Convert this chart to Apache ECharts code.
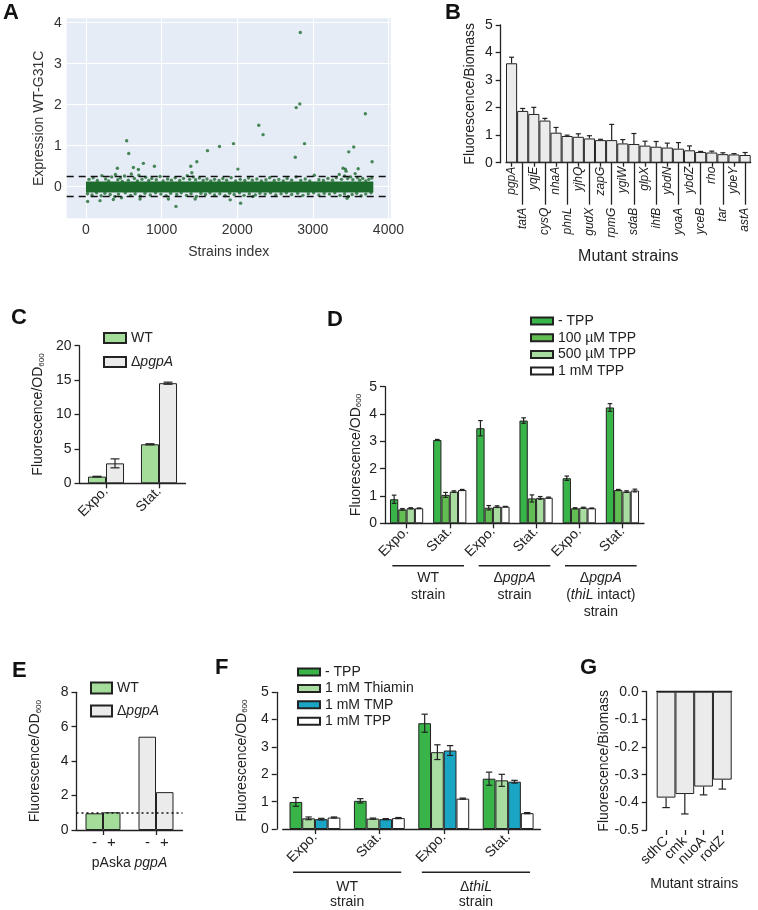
<!DOCTYPE html>
<html><head><meta charset="utf-8">
<script src="https://cdn.jsdelivr.net/npm/echarts@6/dist/echarts.min.js"></script>
<style>html,body{margin:0;padding:0;background:#fff}#c{width:758px;height:910px}</style>
</head><body><div id="c"></div>
<script>
// ---------------- Panel A ----------------
const aTicksX = [0, 1000, 2000, 3000, 4000];
const aTicksY = [0, 1, 2, 3, 4];
const aThresholds = [0.25, -0.23];
const aBandX = [0, 3800];
const aBandY = [-0.14, 0.13];
const aFringe = [
  [40,0.18],[95,0.22],[150,0.15],[210,0.27],[260,0.19],[300,0.14],[340,0.24],[390,0.3],[420,0.17],[455,0.21],
  [480,0.13],[510,0.26],[560,0.16],[600,0.31],[640,0.2],[680,0.14],[700,0.28],[740,0.18],[790,0.23],[830,0.15],
  [870,0.2],[930,0.17],[980,0.25],[1020,0.14],[1080,0.19],[1130,0.16],[1180,0.22],[1240,0.15],[1290,0.2],[1340,0.27],
  [1370,0.18],[1400,0.34],[1420,0.24],[1450,0.17],[1500,0.21],[1550,0.15],[1600,0.19],[1650,0.14],[1700,0.18],[1760,0.15],
  [1810,0.2],[1860,0.16],[1920,0.22],[1980,0.14],[2040,0.18],[2100,0.15],[2150,0.21],[2200,0.16],[2260,0.19],[2320,0.14],
  [2380,0.17],[2430,0.22],[2490,0.15],[2550,0.18],[2610,0.14],[2660,0.2],[2720,0.16],[2780,0.24],[2840,0.15],[2900,0.19],
  [2960,0.14],[3020,0.28],[3080,0.17],[3140,0.15],[3200,0.2],[3260,0.16],[3310,0.22],[3350,0.3],[3380,0.18],[3420,0.26],
  [3440,0.38],[3460,0.2],[3500,0.24],[3530,0.17],[3560,0.32],[3590,0.22],[3620,0.16],[3660,0.2],[3700,0.14],[3740,0.18],[3780,0.21],
  [20,-0.17],[80,-0.2],[140,-0.15],[200,-0.22],[250,-0.16],[320,-0.19],[380,-0.24],[430,-0.18],[470,-0.27],[520,-0.15],
  [590,-0.21],[650,-0.17],[720,-0.23],[780,-0.16],[850,-0.2],[920,-0.15],[990,-0.18],[1060,-0.22],[1120,-0.16],[1200,-0.19],
  [1260,-0.15],[1330,-0.21],[1390,-0.17],[1460,-0.24],[1520,-0.16],[1580,-0.19],[1640,-0.15],[1700,-0.2],[1770,-0.17],[1840,-0.22],
  [1900,-0.16],[1960,-0.19],[2030,-0.15],[2090,-0.21],[2160,-0.17],[2240,-0.2],[2300,-0.16],[2370,-0.18],[2440,-0.15],[2510,-0.2],
  [2580,-0.17],[2650,-0.15],[2720,-0.19],[2800,-0.16],[2870,-0.21],[2940,-0.17],[3010,-0.15],[3080,-0.2],[3150,-0.16],[3220,-0.18],
  [3290,-0.15],[3360,-0.21],[3420,-0.17],[3470,-0.24],[3520,-0.19],[3580,-0.16],[3640,-0.22],[3700,-0.18],[3770,-0.15]
];
const aOutliers = [
  [538,1.12],[565,0.81],[627,0.47],[415,0.45],[693,0.42],[759,0.57],[905,0.5],[1386,0.5],[1466,0.61],[1607,0.88],
  [1766,0.98],[1951,1.05],[2009,0.43],[2285,1.5],[2342,1.27],[2768,0.72],[2780,1.93],[2828,2.02],[2834,3.76],[2890,1.05],
  [3400,0.45],[3430,0.43],[3475,0.85],[3541,0.97],[3600,0.44],[3695,1.78],[3784,0.61],
  [1190,-0.48],[2045,-0.4],[1907,-0.32],[22,-0.36],[185,-0.34],[362,-0.31],[715,-0.3],[1090,-0.3],[1444,-0.3],[2208,-0.24],[3453,-0.28]
];
// ---------------- Panel B ----------------
const bStrains = ['pgpA','tatA','yqjE','cysQ','nhaA','phnL','yjhQ','gudX','zapG','rpmG','ygiW','sdaB','glpX','ihfB','ybdN','yoaA','ybdZ','yceB','rho','tar','ybeY','astA'];
const bMean = [3.61,1.88,1.77,1.53,1.09,0.97,0.94,0.88,0.82,0.82,0.70,0.68,0.62,0.58,0.55,0.51,0.45,0.39,0.37,0.31,0.30,0.28];
const bErrTop = [3.83,1.97,2.01,1.61,1.28,1.00,1.05,0.98,0.85,1.39,0.84,1.06,0.78,0.77,0.71,0.73,0.61,0.41,0.42,0.36,0.33,0.37];
// ---------------- Panel C ----------------
const cPhases = ['Expo.','Stat.'];
const cWT = [0.97, 5.67];
const cWTErr = [0.05, 0.08];
const cPgpA = [2.9, 14.55];
const cPgpAErr = [0.65, 0.15];
// ---------------- Panel D ----------------
const dPhases = ['Expo.','Stat.','Expo.','Stat.','Expo.','Stat.'];
const dGroups = ['WT\nstrain', 'ΔpgpA\nstrain', 'ΔpgpA\n(thiL intact)\nstrain'];
const dGroupSpans = [[0,1],[2,3],[4,5]];
const dNames = ['- TPP','100 µM TPP','500 µM TPP','1 mM TPP'];
const dNoTPP = [0.88, 3.05, 3.48, 3.76, 1.65, 4.24];
const dNoTPPErr = [0.15, 0.02, 0.28, 0.10, 0.08, 0.14];
const d100 = [0.51, 1.04, 0.57, 0.91, 0.55, 1.22];
const d100Err = [0.03, 0.09, 0.08, 0.13, 0.02, 0.02];
const d500 = [0.55, 1.16, 0.61, 0.93, 0.57, 1.16];
const d500Err = [0.02, 0.03, 0.03, 0.05, 0.02, 0.03];
const d1mM = [0.55, 1.22, 0.61, 0.94, 0.55, 1.20];
const d1mMErr = [0.01, 0.02, 0.01, 0.02, 0.01, 0.05];
// ---------------- Panel E ----------------
const eStrains = ['WT','ΔpgpA'];
const eSigns = ['-','+'];
const eMinus = [0.97, 5.42];
const ePlus = [1.03, 2.2];
const eReference = [1];
// ---------------- Panel F ----------------
const fPhases = ['Expo.','Stat.','Expo.','Stat.'];
const fGroups = ['WT\nstrain', 'ΔthiL\nstrain'];
const fGroupSpans = [[0,1],[2,3]];
const fNames = ['- TPP','1 mM Thiamin','1 mM TMP','1 mM TPP'];
const fNoTPP = [0.99, 1.03, 3.87, 1.84];
const fNoTPPErr = [0.16, 0.08, 0.33, 0.24];
const fThiamin = [0.39, 0.38, 2.81, 1.78];
const fThiaminErr = [0.05, 0.02, 0.27, 0.22];
const fTMP = [0.36, 0.36, 2.87, 1.73];
const fTMPErr = [0.03, 0.02, 0.18, 0.05];
const fTPP = [0.42, 0.40, 1.11, 0.58];
const fTPPErr = [0.02, 0.02, 0.02, 0.02];
// ---------------- Panel G ----------------
const gStrains = ['sdhC','cmk','nuoA','rodZ'];
const gMean = [-0.383, -0.370, -0.343, -0.318];
const gErr = [0.036, 0.072, 0.030, 0.034];

// ---------------- styling ----------------
const FONT = '"Liberation Sans", Arial, Helvetica, sans-serif';
const INK = '#222';
const GREEN_DOT = '#1e6b2e';
const GRAY = '#ebebeb';
const WTGREEN = '#a4dc9a';
const C_NOTPP = '#38b449';
const C_100 = '#62bd52';
const C_500 = '#a9dca0';
const C_WHITE = '#ffffff';
const C_TMP = '#1ba5c4';
const italicRich = { i: { fontStyle: 'italic', fontFamily: FONT, fontSize: 14, color: INK } };
const italize = s => s.replace(/(pgpA|thiL)/g, '{i|$1}');
const FL_OD = '{a|Fluorescence/OD}{s|600}';
const flRich = { a: { fontSize: 14, fontFamily: FONT, color: INK, lineHeight: 16, verticalAlign: 'bottom' },
                 s: { fontSize: 8, fontFamily: FONT, color: INK, lineHeight: 9, verticalAlign: 'bottom' } };

const axLine = { show: true, onZero: true, lineStyle: { color: INK, width: 1.3 } };
const axTick = { show: true, length: 5, lineStyle: { color: INK, width: 1.3 } };
const lbl = (size, extra) => Object.assign({ fontSize: size, fontFamily: FONT, color: INK }, extra || {});

function valY(grid, min, max, interval, extra) {
  return Object.assign({
    type: 'value', gridIndex: grid, min: min, max: max, interval: interval,
    axisLine: axLine, axisTick: axTick, splitLine: { show: false },
    axisLabel: lbl(14, { margin: 8 }),
    nameLocation: 'middle', nameTextStyle: { fontSize: 14, fontFamily: FONT, color: INK, rich: flRich }
  }, extra || {});
}
function catX(grid, data, extra) {
  return Object.assign({
    type: 'category', gridIndex: grid, data: data, position: 'bottom',
    axisLine: axLine, axisTick: Object.assign({ alignWithLabel: true }, axTick),
    axisLabel: lbl(14, { rotate: 45, margin: 6, interval: 0 }), splitLine: { show: false }
  }, extra || {});
}
function makeErr(n, gap, k, capFrac) {
  return function (params, api) {
    const ci = api.value(0), v = api.value(1), lo = api.value(2), hi = api.value(3);
    const band = api.size([1, 0])[0];
    const bw = band * (1 - gap) / n;
    const c = api.coord([ci, v]);
    const x = c[0] + (k - (n - 1) / 2) * bw;
    const yLo = api.coord([ci, lo])[1], yHi = api.coord([ci, hi])[1];
    const cw = bw * capFrac / 2;
    const st = { stroke: INK, lineWidth: 1.2 };
    const ch = [{ type: 'line', shape: { x1: x, y1: yLo, x2: x, y2: yHi }, style: st }];
    if (hi !== v) ch.push({ type: 'line', shape: { x1: x - cw, y1: yHi, x2: x + cw, y2: yHi }, style: st });
    if (lo !== v) ch.push({ type: 'line', shape: { x1: x - cw, y1: yLo, x2: x + cw, y2: yLo }, style: st });
    return { type: 'group', children: ch };
  };
}
function errSeries(xi, yi, n, gap, k, rows, capFrac) {
  return { type: 'custom', xAxisIndex: xi, yAxisIndex: yi, z: 5, clip: false, silent: true,
    encode: { x: 0, y: 1 }, renderItem: makeErr(n, gap, k, capFrac || 0.55), data: rows };
}
const sym = (vals, errs) => vals.map((v, i) => [i, v, v - errs[i], v + errs[i]]);
function groupLine(xi, yi, dy, frac, spans) {
  return { type: 'custom', xAxisIndex: xi, yAxisIndex: yi, clip: false, silent: true, encode: { x: 0, y: 1 },
    data: spans.map(s => [s[0], 0, s[1]]),
    renderItem: (params, api) => {
      const a = api.value(0), b = api.value(2);
      const band = api.size([1, 0])[0];
      const pa = api.coord([a, 0]), pb = api.coord([b, 0]);
      return { type: 'line', shape: { x1: pa[0] - frac * band, y1: pa[1] + dy, x2: pb[0] + frac * band, y2: pb[1] + dy },
        style: { stroke: INK, lineWidth: 1.5 } };
    } };
}
function bar(name, xi, yi, data, color, extra) {
  return Object.assign({ type: 'bar', name: name, xAxisIndex: xi, yAxisIndex: yi, data: data, barGap: '0%',
    itemStyle: { color: color, borderColor: INK, borderWidth: 1 } }, extra || {});
}
function legend(names, left, top, w, h, gap) {
  return { data: names, orient: 'vertical', left: left, top: top, itemWidth: w, itemHeight: h, itemGap: gap,
    selectedMode: false, icon: 'rect', padding: 0,
    textStyle: { fontSize: 14, lineHeight: 14, fontFamily: FONT, color: INK, rich: italicRich },
    formatter: n => italize(n) };
}
const letter = (t, left, top) => ({ text: t, left: left, top: top, padding: 0,
  textStyle: { fontSize: 22, fontWeight: 'bold', fontFamily: FONT, color: '#111', lineHeight: 22 } });

const GD = 0.23, GF = 0.21, GC = 0.32, GE = 0.34;

const option = {
  animation: false,
  backgroundColor: '#fff',
  textStyle: { fontFamily: FONT },
  title: [letter('A', 3, 2), letter('B', 445, 2), letter('C', 11, 307), letter('D', 327, 309),
          letter('E', 12, 660), letter('F', 215, 657), letter('G', 580, 657)],
  legend: [
    legend(['WT', 'ΔpgpA'], 103, 331, 22, 10, 10),
    legend(dNames, 530, 314, 22, 7, 2.7),
    legend(['WT', 'ΔpgpA'], 90, 681, 21, 11, 9),
    legend(fNames, 297, 665, 22, 7, 2.4)
  ],
  grid: [
    { left: 66.7, top: 18.3, width: 324, height: 200, show: true, backgroundColor: '#E5ECF6', borderWidth: 0 },
    { left: 506, top: 25, width: 244.7, height: 137.7 },
    { left: 79.5, top: 345.7, width: 106, height: 137.6 },
    { left: 385, top: 386.7, width: 259, height: 136.6 },
    { left: 76.5, top: 692.3, width: 106, height: 137.7 },
    { left: 282.75, top: 692.3, width: 257.6, height: 137.7 },
    { left: 656.7, top: 691.7, width: 75, height: 138.3 }
  ],
  xAxis: [
    // 0: A
    { type: 'value', gridIndex: 0, min: -255, max: 4030, axisLine: { show: false }, axisTick: { show: false, customValues: aTicksX },
      splitLine: { show: true, lineStyle: { color: '#ffffff', width: 1 } },
      axisLabel: lbl(14, { margin: 5, color: '#333', customValues: aTicksX, formatter: v => String(v) }),
      name: 'Strains index', nameLocation: 'middle', nameGap: 27, nameTextStyle: lbl(14, { color: '#333' }) },
    // 1: B even labels
    catX(1, bStrains, { axisTick: Object.assign({}, axTick, { alignWithLabel: true, length: 4, interval: i => i % 2 === 0 }),
      axisLabel: lbl(12, { rotate: 90, margin: 4, fontStyle: 'italic', interval: i => i % 2 === 0 }),
      name: 'Mutant strains', nameLocation: 'middle', nameGap: 86, nameTextStyle: lbl(16) }),
    // 2: B odd labels
    catX(1, bStrains, { axisLine: { show: false },
      axisTick: Object.assign({}, axTick, { alignWithLabel: true, length: 42, interval: i => i % 2 === 1 }),
      axisLabel: lbl(12, { rotate: 90, margin: 45, fontStyle: 'italic', interval: i => i % 2 === 1 }) }),
    // 3: C
    catX(2, cPhases),
    // 4: D
    catX(3, dPhases),
    // 5: D groups
    { type: 'category', gridIndex: 3, data: dGroups, position: 'bottom', axisLine: { show: false }, axisTick: { show: false },
      axisLabel: lbl(14, { margin: 46, lineHeight: 17, interval: 0, rich: italicRich, formatter: v => italize(v) }) },
    // 6: E
    catX(4, eStrains, { axisLabel: lbl(15, { margin: 5, interval: 0,
        formatter: () => '{m|' + eSigns[0] + '}{p|' + eSigns[1] + '}',
        rich: { m: { width: 17, align: 'center', fontSize: 15, fontFamily: FONT, color: INK },
                p: { width: 17, align: 'center', fontSize: 15, fontFamily: FONT, color: INK } } }),
      name: 'pAska {i|pgpA}', nameLocation: 'middle', nameGap: 26, nameTextStyle: lbl(14, { rich: italicRich }) }),
    // 7: F
    catX(5, fPhases),
    // 8: F groups
    { type: 'category', gridIndex: 5, data: fGroups, position: 'bottom', axisLine: { show: false }, axisTick: { show: false },
      axisLabel: lbl(14, { margin: 51, lineHeight: 15, interval: 0, rich: italicRich, formatter: v => italize(v) }) },
    // 9: G zero line
    { type: 'category', gridIndex: 6, data: gStrains, position: 'bottom', axisLine: axLine, axisTick: { show: false }, axisLabel: { show: false } },
    // 10: G labels
    catX(6, gStrains, { axisLine: { show: false, onZero: false },
      axisLabel: lbl(14, { rotate: 45, margin: 9, interval: 0 }),
      name: 'Mutant strains', nameLocation: 'middle', nameGap: 47, nameTextStyle: lbl(14) })
  ],
  yAxis: [
    { type: 'value', gridIndex: 0, min: -0.77, max: 4.107, axisLine: { show: false }, axisTick: { show: false, customValues: aTicksY },
      splitLine: { show: true, lineStyle: { color: '#ffffff', width: 1 } },
      axisLabel: lbl(14, { margin: 5, color: '#333', customValues: aTicksY }),
      name: 'Expression WT-G31C', nameLocation: 'middle', nameGap: 21, nameTextStyle: lbl(14, { color: '#333' }) },
    valY(1, 0, 5, 1, { offset: 5.3, name: 'Fluorescence/Biomass', nameGap: 24, nameTextStyle: lbl(14) }),
    valY(2, 0, 20, 5, { name: FL_OD, nameGap: 34 }),
    valY(3, 0, 5, 1, { name: FL_OD, nameGap: 22 }),
    valY(4, 0, 8, 2, { name: FL_OD, nameGap: 34 }),
    valY(5, 0, 5, 1, { offset: 6, name: FL_OD, nameGap: 28 }),
    valY(6, -0.5, 0, 0.1, { offset: 10, axisLabel: lbl(14, { margin: 8, formatter: v => v.toFixed(1) }),
      name: 'Fluorescence/Biomass', nameGap: 36, nameTextStyle: lbl(14) })
  ],
  series: [
    // A
    { type: 'scatter', xAxisIndex: 0, yAxisIndex: 0, data: aFringe, symbolSize: 3.4, itemStyle: { color: GREEN_DOT }, silent: true,
      markArea: { silent: true, itemStyle: { color: GREEN_DOT }, data: [[{ xAxis: aBandX[0], yAxis: aBandY[0] }, { xAxis: aBandX[1], yAxis: aBandY[1] }]] },
      markLine: { silent: true, symbol: 'none', label: { show: false }, lineStyle: { color: '#111', type: [7, 5], width: 1.4 },
        data: aThresholds.map(v => ({ yAxis: v })) } },
    { type: 'scatter', xAxisIndex: 0, yAxisIndex: 0, data: aOutliers, symbolSize: 3.4, itemStyle: { color: GREEN_DOT }, silent: true },
    // B
    bar('B', 1, 1, bMean, GRAY, { barCategoryGap: '0%' }),
    errSeries(1, 1, 1, 0, 0, bMean.map((v, i) => [i, v, v, bErrTop[i]]), 0.45),
    // C
    bar('WT', 3, 2, cWT, WTGREEN, { barCategoryGap: (GC * 100) + '%' }),
    bar('ΔpgpA', 3, 2, cPgpA, GRAY, { barCategoryGap: (GC * 100) + '%' }),
    errSeries(3, 2, 2, GC, 0, sym(cWT, cWTErr), 0.5),
    errSeries(3, 2, 2, GC, 1, sym(cPgpA, cPgpAErr), 0.5),
    // D
    bar(dNames[0], 4, 3, dNoTPP, C_NOTPP, { barCategoryGap: (GD * 100) + '%' }),
    bar(dNames[1], 4, 3, d100, C_100, { barCategoryGap: (GD * 100) + '%' }),
    bar(dNames[2], 4, 3, d500, C_500, { barCategoryGap: (GD * 100) + '%' }),
    bar(dNames[3], 4, 3, d1mM, C_WHITE, { barCategoryGap: (GD * 100) + '%' }),
    errSeries(4, 3, 4, GD, 0, sym(dNoTPP, dNoTPPErr)),
    errSeries(4, 3, 4, GD, 1, sym(d100, d100Err)),
    errSeries(4, 3, 4, GD, 2, sym(d500, d500Err)),
    errSeries(4, 3, 4, GD, 3, sym(d1mM, d1mMErr)),
    groupLine(4, 3, 42.4, 0.33, dGroupSpans),
    // E
    bar('WT', 6, 4, [eMinus[0], '-'], WTGREEN, { stack: 'minus', barCategoryGap: (GE * 100) + '%',
      markLine: { silent: true, symbol: 'none', label: { show: false }, lineStyle: { color: '#111', type: [2, 3], width: 1.6 },
        data: eReference.map(v => ({ yAxis: v })) } }),
    bar('ΔpgpA', 6, 4, ['-', eMinus[1]], GRAY, { stack: 'minus', barCategoryGap: (GE * 100) + '%' }),
    bar('WT', 6, 4, [ePlus[0], '-'], WTGREEN, { stack: 'plus', barCategoryGap: (GE * 100) + '%' }),
    bar('ΔpgpA', 6, 4, ['-', ePlus[1]], GRAY, { stack: 'plus', barCategoryGap: (GE * 100) + '%' }),
    // F
    bar(fNames[0], 7, 5, fNoTPP, C_NOTPP, { barCategoryGap: (GF * 100) + '%' }),
    bar(fNames[1], 7, 5, fThiamin, C_500, { barCategoryGap: (GF * 100) + '%' }),
    bar(fNames[2], 7, 5, fTMP, C_TMP, { barCategoryGap: (GF * 100) + '%' }),
    bar(fNames[3], 7, 5, fTPP, C_WHITE, { barCategoryGap: (GF * 100) + '%' }),
    errSeries(7, 5, 4, GF, 0, sym(fNoTPP, fNoTPPErr), 0.5),
    errSeries(7, 5, 4, GF, 1, sym(fThiamin, fThiaminErr), 0.5),
    errSeries(7, 5, 4, GF, 2, sym(fTMP, fTMPErr), 0.5),
    errSeries(7, 5, 4, GF, 3, sym(fTPP, fTPPErr), 0.5),
    groupLine(7, 5, 43.3, 0.34, fGroupSpans),
    // G
    bar('G', 9, 6, gMean, GRAY, { barCategoryGap: '0%' }),
    errSeries(9, 6, 1, 0, 0, gMean.map((v, i) => [i, v, v - gErr[i], v]), 0.4)
  ]
};
const chart = echarts.init(document.getElementById('c'), null, { renderer: 'canvas' });
chart.setOption(option);
</script></body></html>
